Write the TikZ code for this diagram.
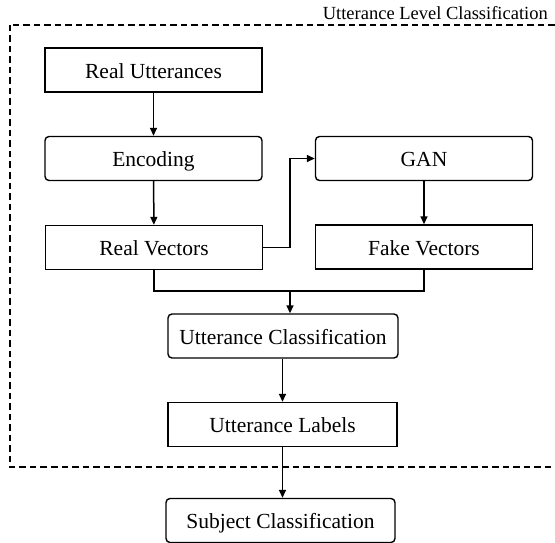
\documentclass[tikz,border=0pt]{standalone}
\usepackage{fontspec}
\setmainfont{Liberation Serif}
\usetikzlibrary{arrows.meta}
\begin{document}
\begin{tikzpicture}[x=1pt,y=-1pt,
  sq/.style={draw,line width=1.4pt,minimum width=217pt,minimum height=44pt,inner sep=0pt,text height=16.5pt,text depth=0pt,font=\fontsize{21.5}{25}\selectfont},
  rd/.style={sq,rounded corners=4pt},
  conn/.style={line width=1.5pt,-{Triangle[length=8pt,width=7pt]}},
  plain/.style={line width=1.5pt},
  frame/.style={line width=2.6pt,dash pattern=on 6.5pt off 4pt}]
\clip (0,0) rectangle (555,543);
\node[sq] (ru) at (153.5,70) {Real Utterances};
\node[rd] (enc) at (153.5,158.5) {Encoding};
\node[sq] (rv) at (154,247.5) {Real Vectors};
\node[rd] (gan) at (424,158.5) {GAN};
\node[sq] (fv) at (424,247) {Fake Vectors};
\node[rd,minimum width=230pt] (uc) at (283,336) {Utterance Classification};
\node[sq,minimum width=229pt] (ul) at (282.5,424.5) {Utterance Labels};
\node[rd,minimum width=229pt] (sc) at (280.5,520.5) {Subject Classification};
\coordinate (tl) at (10,25);
\coordinate (br) at (570,467);
\draw[frame] (tl) rectangle (br);
\node[anchor=base east,inner sep=0pt,font=\fontsize{18.5}{21}\selectfont] (lbl) at (548,20) {Utterance Level Classification};
\draw[conn] (ru) -- (enc);
\draw[conn] (enc) -- (rv);
\draw[conn] (gan) -- (fv);
\draw[conn] (rv.east) -| (290,158.5) -- (gan.west);
\coordinate (m) at (290,291);
\draw[plain] (rv.south) |- (m);
\draw[plain] (fv.south) |- (m);
\draw[conn] (m) -- (uc.north -| m);
\draw[conn] (uc.south -| ul.north) -- (ul.north);
\draw[conn] (ul.south) -- (sc.north -| ul.south);
\end{tikzpicture}
\end{document}
